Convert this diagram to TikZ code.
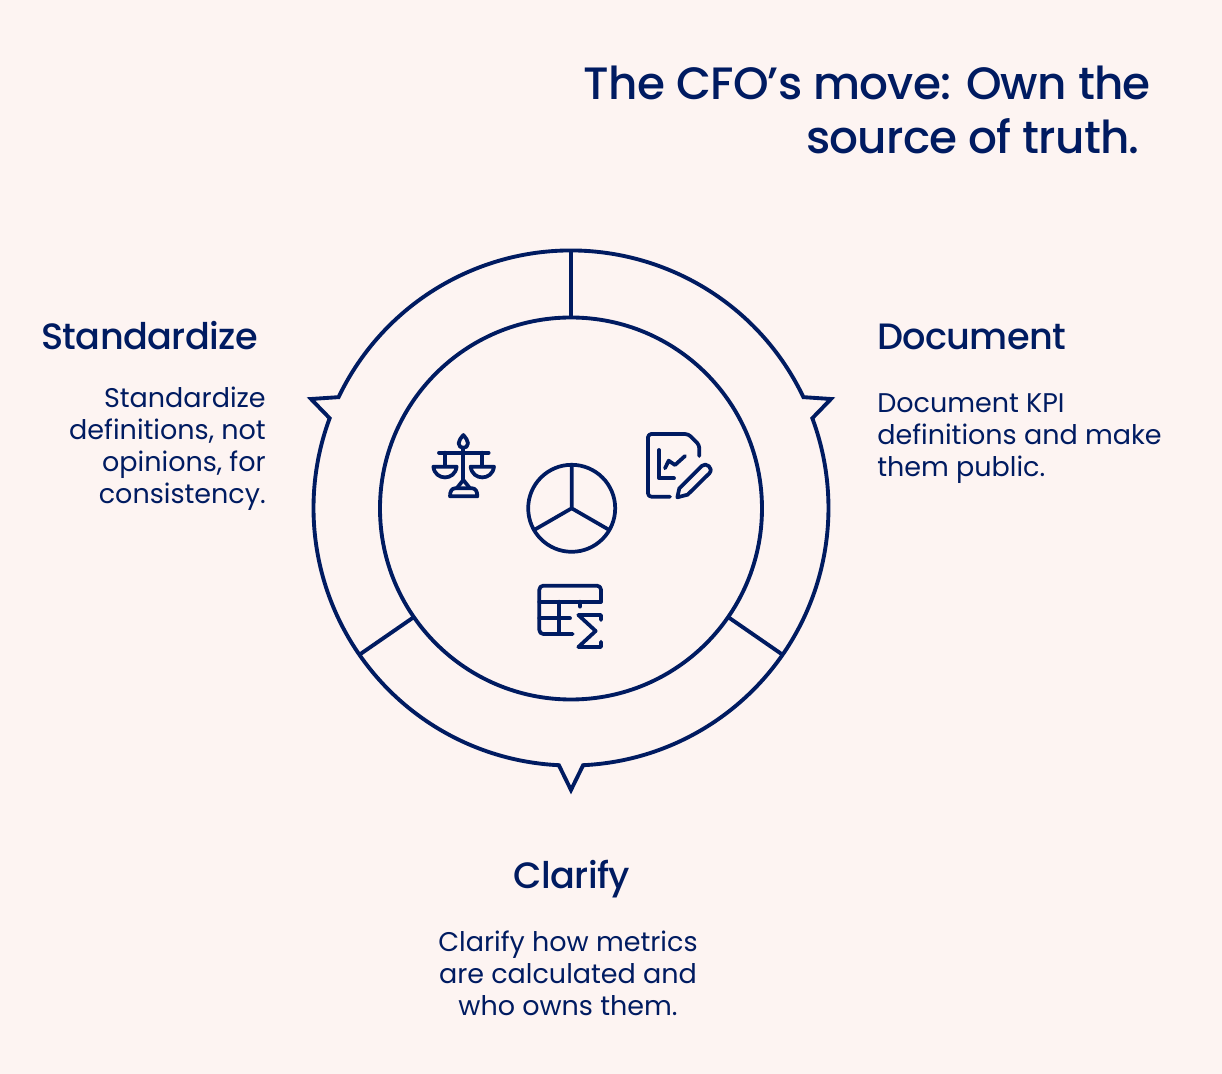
\documentclass[tikz,border=0pt]{standalone}
\usepackage{fontspec}
\usepackage{xcolor}
\setmainfont{Poppins}
\newfontfamily\headfont{Poppins Medium}[LetterSpace=-1.7]
\usetikzlibrary{positioning, calc}
\definecolor{navy}{RGB}{0,27,97}
\definecolor{paper}{RGB}{253,244,242}
\tikzset{
  ring/.style={draw=navy, line width=2.9pt, line join=miter},
  divider/.style={draw=navy, line width=2.9pt},
  iconline/.style={draw=navy, line width=2.8pt, line cap=round, line join=round},
  heading/.style={text=navy, inner sep=0pt, font=\headfont\fontsize{27.5}{30}\selectfont},
  body/.style={text=navy, inner sep=0pt, font=\fontsize{20.25}{24}\selectfont},
  title/.style={text=navy, inner sep=0pt, font=\headfont\fontsize{34}{40.5}\selectfont},
}
\begin{document}
\begin{tikzpicture}[x=0.75pt, y=0.75pt]
  % origin at the centre of the rings
  \fill[paper] (-571,-566) rectangle (651,508);
  \useasboundingbox (-571,-566) rectangle (651,508);

  \node[title, align=right, anchor=base east] (headline) at (580,354) {The CFO’s move: Own the\\source of truth.\hspace*{8.25pt}};

  % rings
  \coordinate (tipL) at (-260,109);
  \coordinate (tipR) at (260,109);
  \coordinate (tipB) at (0,-282);
  \draw[ring] (25.5:257.5) arc[start angle=25.5, end angle=154.5, radius=257.5]
    -- (tipL) -- (159.6:257.5) arc[start angle=159.6, end angle=267.3, radius=257.5]
    -- (tipB) -- (272.7:257.5) arc[start angle=272.7, end angle=380.4, radius=257.5]
    -- (tipR) -- cycle;
  \draw[ring] (0,-0.5) circle[radius=191];

  % dividers
  \coordinate (topOut) at (0,257);
  \coordinate (topIn) at (0,191);
  \coordinate (leftOut) at (-212,-147);
  \coordinate (leftIn) at (-157,-109);
  \coordinate (rightOut) at (212,-147);
  \coordinate (rightIn) at (157,-109);
  \draw[divider] (topOut) -- (topIn);
  \draw[divider] (leftOut) -- (leftIn);
  \draw[divider] (rightOut) -- (rightIn);

  % pie
  \draw[iconline] (0.7,-0.3) circle[radius=43.5];
  \draw[iconline] (0.7,-0.3) -- +(90:43.5) (0.7,-0.3) -- +(210:43.5) (0.7,-0.3) -- +(330:43.5);

  % icons, drawn on a grid of quarter points
  \begin{scope}[shift={(-151,88)}, x=0.25pt, y=-0.25pt]
    % scales
    \draw[iconline] (130,45) .. controls (122,55) and (116,62) .. (116,70)
      .. controls (116,88) and (144,88) .. (144,70) .. controls (144,62) and (138,55) .. (130,45) -- cycle;
    \draw[iconline] (130,85) -- (130,180);
    \draw[iconline] (57,98) -- (206,98);
    \draw[iconline] (75,98) -- (75,138) (187,98) -- (187,138);
    \draw[iconline] (40,140) -- (110,140) .. controls (105,183) and (45,183) .. (40,140) -- cycle;
    \draw[iconline] (152,140) -- (222,140) .. controls (217,183) and (157,183) .. (152,140) -- cycle;
    \draw[iconline] (110,205) -- (130,180) -- (150,205);
    \draw[iconline] (90,229) .. controls (90,215) and (95,205) .. (105,205) -- (157,205)
      .. controls (167,205) and (172,215) .. (172,229) -- cycle;
    % document
    \draw[iconline, rounded corners=2.5pt] (838,108) -- (838,75) -- (805,42) -- (684,42) -- (684,230) -- (750,230);
    \draw[iconline] (717,90) -- (717,175) -- (762,175);
    \draw[iconline] (735,145) -- (746,122) -- (765,135) -- (795,108);
    \draw[iconline] (772,232) -- (778,205) -- (845,138) .. controls (858,125) and (882,145) .. (868,160) -- (803,224) -- cycle;
    % table
    \draw[iconline, rounded corners=3pt] (458,642) -- (358,642) -- (358,497) -- (543,497) -- (543,545);
    \draw[iconline] (358,545) -- (543,545);
    \draw[iconline] (418,545) -- (418,642);
    \draw[iconline] (358,595) -- (450,595);
    \draw[iconline] (480,545) -- (480,560);
    \draw[iconline] (543,600) -- (543,585) -- (475,585) -- (527,633) -- (475,681) -- (543,681) -- (543,665);
  \end{scope}

  % labels
  \node[heading, anchor=base west] (stdHead) at (-530,158.5) {Standardize};
  \node[body, align=right, anchor=base east] (stdText) at (-305,4.5)
    {Standardize\\definitions, not\\opinions, for\\consistency.};
  \node[heading, anchor=base west] (docHead) at (306,158.5) {Document};
  \node[body, align=left, anchor=base west] (docText) at (306,31)
    {Document KPI\\definitions and make\\them public.};
  \node[heading, anchor=base] (claHead) at (1,-380) {Clarify};
  \node[body, align=center, anchor=base] (claText) at (-3,-507)
    {Clarify how metrics\\are calculated and\\who owns them.};
\end{tikzpicture}
\end{document}
